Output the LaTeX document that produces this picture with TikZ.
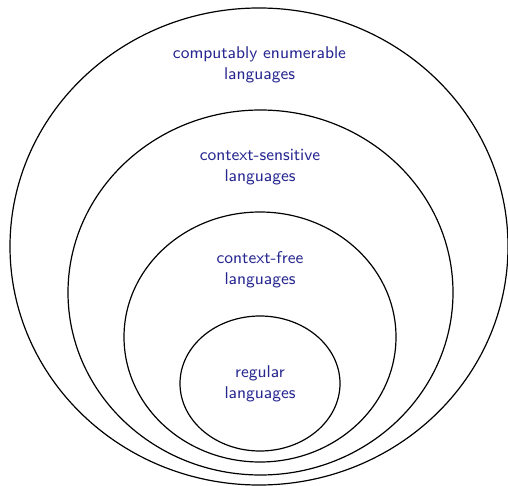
\documentclass[tikz,border=0pt]{standalone}
\usepackage{tikz}
\definecolor{langblue}{RGB}{38,38,145}
\tikzset{
  langset/.style = {line width = 0.6pt},
  langlabel/.style = {align = center, text = langblue, font = \sffamily\fontsize{8.5}{10.6}\selectfont}
}

\begin{document}
\begin{tikzpicture} [x = 0.5 pt, y = -0.5 pt]
    \useasboundingbox (0, 0) rectangle (508, 486);

    \coordinate (re) at (259, 246.5);
    \coordinate (cs) at (260.5, 292.5);
    \coordinate (cf) at (260, 337);
    \coordinate (rg) at (260, 383.5);

    \draw[langset] (re) ellipse (249 and 238.5);
    \draw[langset] (cs) ellipse (192.5 and 182.5);
    \draw[langset] (cf) ellipse (136 and 125);
    \draw[langset] (rg) ellipse (80 and 67.5);

    \node[langlabel] (re label) at (259.5, 65)
      {computably enumerable\\languages};
    \node[langlabel] (cs label) at (260, 167.5)
      {context-sensitive\\languages};
    \node[langlabel] (cf label) at (260, 269.5)
      {context-free\\languages};
    \node[langlabel] (rg label) at (260, 383.5)
      {regular\\languages};
  \end{tikzpicture}
\end{document}
